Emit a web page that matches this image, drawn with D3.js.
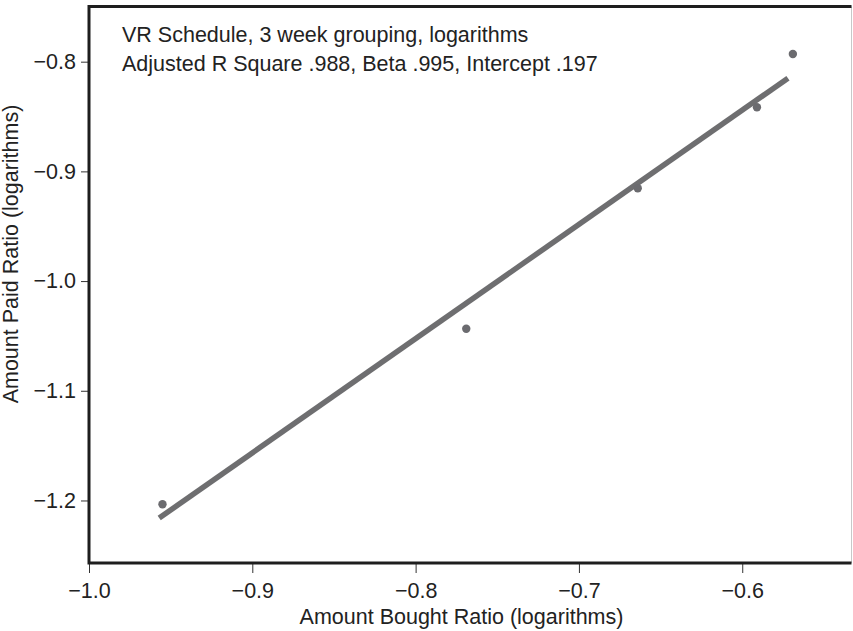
<!DOCTYPE html>
<html>
<head>
<meta charset="utf-8">
<script src="https://cdn.jsdelivr.net/npm/d3@7"></script>
<style>
  body { margin: 0; background: #fff; }
  text { font-family: "Liberation Sans", Arial, Helvetica, sans-serif; fill: #222; }
</style>
</head>
<body>
<div id="chart"></div>
<script>

// observed points (log amount bought ratio, log amount paid ratio)
var boughtRatio = [-0.955, -0.769, -0.664, -0.591, -0.569];
var paidRatio   = [-1.2035, -1.0434, -0.9154, -0.8416, -0.793];

// fitted regression line end points
var fitX = [-0.957, -0.572];
var fitY = [-1.216, -0.815];

var xTicks = [-1.0, -0.9, -0.8, -0.7, -0.6];
var yTicks = [-1.2, -1.1, -1.0, -0.9, -0.8];

var notes = ['VR Schedule, 3 week grouping, logarithms',
             'Adjusted R Square .988, Beta .995, Intercept .197'];

function drawScatter(chartId) {
    var width = 853, height = 631;
    var margin = {left: 89, top: 6.5, right: 1.5, bottom: 68};
    var w = width - margin.left - margin.right;
    var h = height - margin.top - margin.bottom;
    var fontSize = 21.5;

    var x = d3.scaleLinear().domain([-1.0, -0.5331]).range([0, w]);
    var y = d3.scaleLinear().domain([-1.257, -0.7497]).range([h, 0]);

    var svg = d3.select(chartId)
        .append('svg')
        .attr('width', width)
        .attr('height', height);

    var chart = svg.append('g')
        .attr('transform', 'translate(' + margin.left + ',' + margin.top + ')');

    // axes
    var xAxis = chart.append('g')
        .attr('transform', 'translate(0,' + h + ')')
        .call(d3.axisBottom(x).tickValues(xTicks).tickSize(10).tickPadding(10)
            .tickFormat(d3.format('.1f')));
    var yAxis = chart.append('g')
        .call(d3.axisLeft(y).tickValues(yTicks).tickSize(8).tickPadding(5)
            .tickFormat(d3.format('.1f')));

    [xAxis, yAxis].forEach(function (a) {
        a.select('.domain').remove();
        a.selectAll('.tick line').attr('stroke', '#333').attr('stroke-width', 1);
        a.selectAll('.tick text')
            .style('font-size', fontSize + 'px')
            .attr('fill', '#222');
    });

    // frame
    chart.append('line')
        .attr('x1', w).attr('x2', w).attr('y1', 0).attr('y2', h)
        .attr('stroke', '#c8c8c8').attr('stroke-width', 1);
    chart.append('path')
        .attr('d', 'M' + w + ',0H0V' + h + 'H' + w)
        .attr('fill', 'none')
        .attr('stroke', '#1e1e1e')
        .attr('stroke-width', 3);

    // regression line
    chart.append('line')
        .attr('x1', x(fitX[0])).attr('y1', y(fitY[0]))
        .attr('x2', x(fitX[1])).attr('y2', y(fitY[1]))
        .attr('stroke', '#6e6e70')
        .attr('stroke-width', 5.5)
        .attr('stroke-linecap', 'butt');

    // points
    chart.selectAll('dots')
        .data(boughtRatio)
        .enter()
        .append('circle')
        .attr('cx', d => x(d))
        .attr('cy', (d, i) => y(paidRatio[i]))
        .attr('r', 4.2)
        .attr('fill', '#6b6b6f');

    // notes
    chart.selectAll('notes')
        .data(notes)
        .enter()
        .append('text')
        .attr('x', 122 - margin.left)
        .attr('y', (d, i) => 42 - margin.top + i * 29)
        .style('font-size', fontSize + 'px')
        .text(d => d);

    // axis titles
    svg.append('text')
        .attr('x', 461.5)
        .attr('y', 624)
        .attr('text-anchor', 'middle')
        .style('font-size', fontSize + 'px')
        .text('Amount Bought Ratio (logarithms)');

    svg.append('text')
        .attr('transform', 'translate(18,254) rotate(-90)')
        .attr('text-anchor', 'middle')
        .style('font-size', fontSize + 'px')
        .text('Amount Paid Ratio (logarithms)');
}

drawScatter('#chart');
</script>
</body>
</html>
